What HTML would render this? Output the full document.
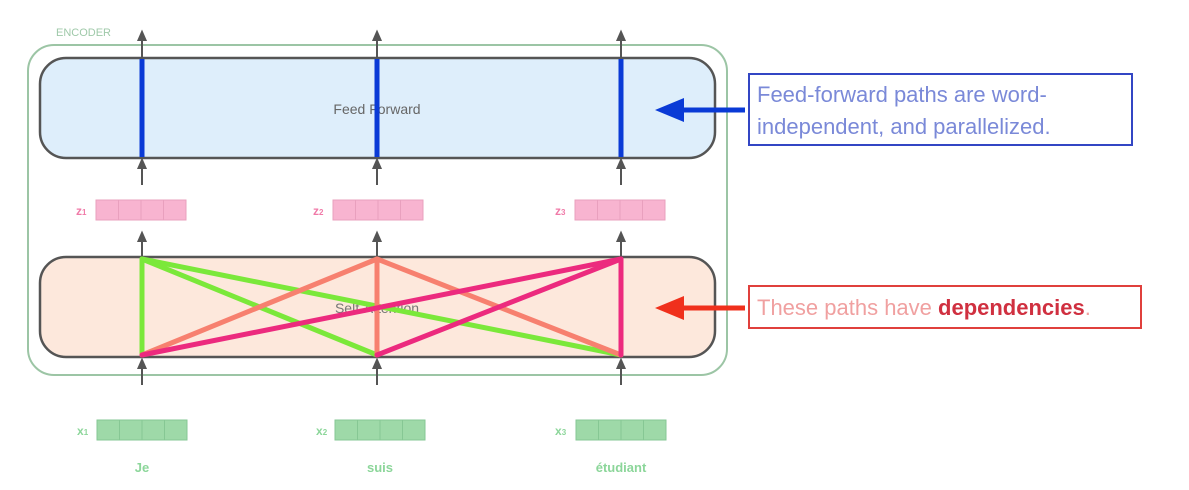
<!DOCTYPE html>
<html><head><meta charset="utf-8"><style>
html,body{margin:0;padding:0;background:#fff;}
svg{display:block;font-family:"Liberation Sans","DejaVu Sans",sans-serif;}
</style></head><body>
<svg width="1189" height="490" viewBox="0 0 1189 490" xmlns="http://www.w3.org/2000/svg">
<!-- encoder -->
<text x="56" y="36" font-size="11" fill="#9fc9a9">ENCODER</text>
<rect x="28" y="45" width="699" height="330" rx="26" fill="#fff" stroke="#9cc5a5" stroke-width="2"/>
<!-- feed forward -->
<rect x="40" y="58" width="675" height="100" rx="26" fill="#deeefb" stroke="#555" stroke-width="2.5"/>
<text x="377" y="114" font-size="14" fill="#666" text-anchor="middle">Feed Forward</text>
<!-- self attention -->
<rect x="40" y="257" width="675" height="100" rx="26" fill="#fde8dc" stroke="#555" stroke-width="2.5"/>
<text x="377" y="313" font-size="14" fill="#777" text-anchor="middle">Self-Attention</text>
<g stroke-width="5" stroke-linecap="round" fill="none">
<line x1="142" y1="259" x2="142" y2="355" stroke="#7be83a"/>
<line x1="142" y1="259" x2="377" y2="355" stroke="#7be83a"/>
<line x1="142" y1="259" x2="621" y2="355" stroke="#7be83a"/>
<line x1="377" y1="259" x2="142" y2="355" stroke="#f7806f"/>
<line x1="377" y1="259" x2="377" y2="355" stroke="#f7806f"/>
<line x1="377" y1="259" x2="621" y2="355" stroke="#f7806f"/>
<line x1="621" y1="259" x2="142" y2="355" stroke="#ec2a7e"/>
<line x1="621" y1="259" x2="377" y2="355" stroke="#ec2a7e"/>
<line x1="621" y1="259" x2="621" y2="355" stroke="#ec2a7e"/>
</g>
<!-- columns -->
<g stroke="#555" stroke-width="2" fill="#555">
<g id="c1">
<line x1="142" y1="58" x2="142" y2="38"/><path d="M138.5,40 L142,32 L145.5,40Z"/>
<line x1="142" y1="185" x2="142" y2="166"/><path d="M138.5,168 L142,160 L145.5,168Z"/>
<line x1="142" y1="256" x2="142" y2="240"/><path d="M138.5,241 L142,233 L145.5,241Z"/>
<line x1="142" y1="385" x2="142" y2="367"/><path d="M138.5,368 L142,360 L145.5,368Z"/>
</g>
<use href="#c1" x="235"/>
<use href="#c1" x="479"/>
</g>
<g stroke="#0a3ad6" stroke-width="5">
<line x1="142" y1="59" x2="142" y2="157"/>
<line x1="377" y1="59" x2="377" y2="157"/>
<line x1="621" y1="59" x2="621" y2="157"/>
</g>
<!-- z vectors -->
<g id="zv" fill="#f8b4d0" stroke="#e9a0be" stroke-width="1">
<rect x="96" y="200" width="22.5" height="20"/><rect x="118.5" y="200" width="22.5" height="20"/><rect x="141" y="200" width="22.5" height="20"/><rect x="163.5" y="200" width="22.5" height="20"/>
</g>
<use href="#zv" x="237"/><use href="#zv" x="479"/>
<g font-size="12" fill="#f07aa8" font-weight="bold">
<text x="76" y="215">z<tspan font-size="8">1</tspan></text>
<text x="313" y="215">z<tspan font-size="8">2</tspan></text>
<text x="555" y="215">z<tspan font-size="8">3</tspan></text>
</g>
<!-- x vectors -->
<g id="xv" fill="#9ed9a8" stroke="#86c794" stroke-width="1">
<rect x="97" y="420" width="22.5" height="20"/><rect x="119.5" y="420" width="22.5" height="20"/><rect x="142" y="420" width="22.5" height="20"/><rect x="164.5" y="420" width="22.5" height="20"/>
</g>
<use href="#xv" x="238"/><use href="#xv" x="479"/>
<g font-size="12" fill="#8cd69a" font-weight="bold">
<text x="77" y="435">x<tspan font-size="8">1</tspan></text>
<text x="316" y="435">x<tspan font-size="8">2</tspan></text>
<text x="555" y="435">x<tspan font-size="8">3</tspan></text>
</g>
<g font-size="13" fill="#8cd69a" font-weight="bold" text-anchor="middle">
<text x="142" y="472">Je</text>
<text x="380" y="472">suis</text>
<text x="621" y="472">étudiant</text>
</g>
<!-- callouts -->
<rect x="749" y="74" width="383" height="71" fill="#fff" stroke="#3346c4" stroke-width="2"/>
<text x="757" y="102" font-size="22" fill="#7a89d8">Feed-forward paths are word-</text>
<text x="757" y="134" font-size="22" fill="#7a89d8">independent, and parallelized.</text>
<line x1="745" y1="110" x2="680" y2="110" stroke="#0a3ad6" stroke-width="5"/>
<path d="M684,98 L655,110 L684,122Z" fill="#0a3ad6"/>
<rect x="749" y="286" width="392" height="42" fill="#fff" stroke="#e0403c" stroke-width="2"/>
<text x="757" y="315" font-size="22" fill="#f0a0a0">These paths have <tspan font-weight="bold" fill="#d03040">dependencies</tspan>.</text>
<line x1="745" y1="308" x2="680" y2="308" stroke="#f0301c" stroke-width="5"/>
<path d="M684,296 L655,308 L684,320Z" fill="#f0301c"/>
</svg>
</body></html>
